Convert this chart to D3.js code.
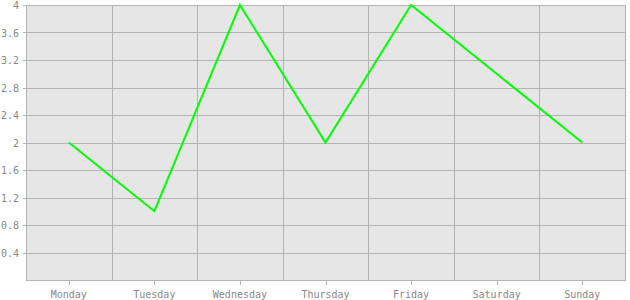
<!DOCTYPE html>
<html><head><meta charset="utf-8">
<script src="https://cdn.jsdelivr.net/npm/d3@7"></script>
<style>body{margin:0;background:#fff}</style>
</head><body>
<svg id="c" width="630" height="300"></svg>
<script>
const categories = ["Monday","Tuesday","Wednesday","Thursday","Friday","Saturday","Sunday"];
const values = [2, 1, 4, 2, 4, 3, 2];
const yTicks = [0.4, 0.8, 1.2, 1.6, 2, 2.4, 2.8, 3.2, 3.6, 4];

const svg = d3.select("#c");
const L = 26, R = 625, T = 5, B = 280;
const x = d3.scaleBand().domain(categories).range([L, R]);
const y = d3.scaleLinear().domain([0, 4]).range([B, T]);
const font = "'DejaVu Sans Mono', monospace";
const grid = "#b4b4b4", txt = "#888";

svg.append("rect").attr("x", L).attr("y", T).attr("width", R - L).attr("height", B - T).attr("fill", "#e6e6e6");

// horizontal grid
svg.append("g").selectAll("line").data(yTicks).join("line")
  .attr("x1", L - 3).attr("x2", R).attr("y1", d => Math.round(y(d)) + 0.5).attr("y2", d => Math.round(y(d)) + 0.5)
  .attr("stroke", grid).attr("stroke-width", 1);
// vertical grid at band boundaries
const bounds = categories.map(c => x(c)).concat([R]);
svg.append("g").selectAll("line").data(bounds).join("line")
  .attr("x1", d => Math.round(d) + 0.5).attr("x2", d => Math.round(d) + 0.5).attr("y1", T).attr("y2", B)
  .attr("stroke", grid);
// bottom axis line
svg.append("line").attr("x1", L).attr("x2", R + 1).attr("y1", B + 0.5).attr("y2", B + 0.5).attr("stroke", grid);
// x ticks
svg.append("g").selectAll("line").data(categories).join("line")
  .attr("x1", d => Math.round(x(d) + x.bandwidth() / 2) + 0.5).attr("x2", d => Math.round(x(d) + x.bandwidth() / 2) + 0.5)
  .attr("y1", B).attr("y2", B + 5).attr("stroke", grid);
svg.append("g").selectAll("text").data(categories).join("text")
  .attr("x", d => x(d) + x.bandwidth() / 2).attr("y", 298)
  .attr("text-anchor", "middle").attr("font-family", font).attr("font-size", 10).attr("fill", txt).text(d => d);
svg.append("g").selectAll("text").data(yTicks).join("text")
  .attr("x", 19).attr("y", d => y(d) + 4)
  .attr("text-anchor", "end").attr("font-family", font).attr("font-size", 10).attr("fill", txt).text(d => d);

const line = d3.line().x((d, i) => x(categories[i]) + x.bandwidth() / 2).y(d => y(d));
svg.append("path").datum(values).attr("d", line).attr("fill", "none").attr("stroke", "#00ff00").attr("stroke-width", 2);
</script>
</body></html>
